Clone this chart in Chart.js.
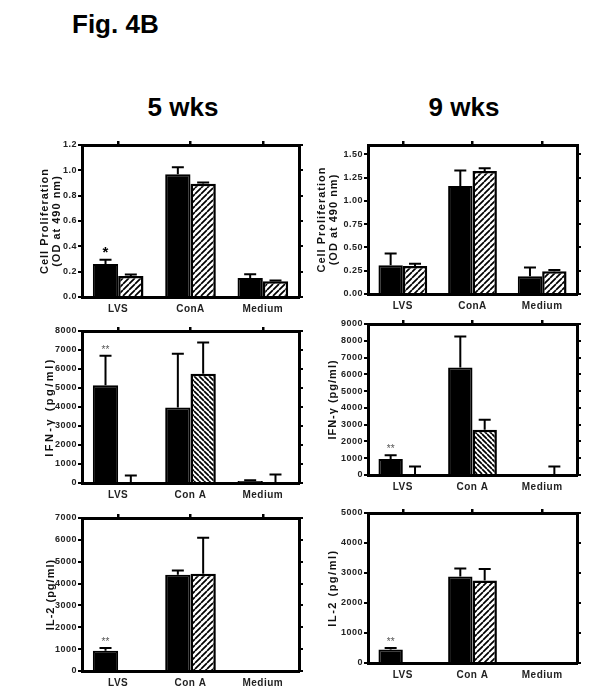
<!DOCTYPE html>
<html lang="en">
<head>
<meta charset="UTF-8">
<title>Fig. 4B</title>
<script src="https://cdn.jsdelivr.net/npm/chart.js"></script>
<style>
  body { margin: 0; background: #fff; font-family: "Liberation Sans", Arial, sans-serif; }
  #fig { position: relative; width: 607px; height: 695px; overflow: hidden; }
  .txt { position: absolute; font-weight: bold; color: #000; line-height: 1; white-space: nowrap; }
  canvas { position: absolute; }
</style>
</head>
<body>
<div id="fig">
  <div class="txt" style="left:72px;top:11px;font-size:26px">Fig. 4B</div>
  <div class="txt" style="left:123px;top:94px;width:120px;text-align:center;font-size:26px">5 wks</div>
  <div class="txt" style="left:404px;top:94px;width:120px;text-align:center;font-size:26px">9 wks</div>
  <canvas id="p1"></canvas>
  <canvas id="p2"></canvas>
  <canvas id="p3"></canvas>
  <canvas id="p4"></canvas>
  <canvas id="p5"></canvas>
  <canvas id="p6"></canvas>
</div>
<script>
// categories
const prolifLabels = ['LVS', 'ConA', 'Medium'];
const cytoLabels = ['LVS', 'Con A', 'Medium'];

// cell proliferation, 5 wks
const prolif5Solid = [0.26, 0.97, 0.15];
const prolif5SolidErr = [0.035, 0.055, 0.03];
const prolif5Hatch = [0.165, 0.895, 0.125];
const prolif5HatchErr = [0.012, 0.008, 0.005];
const prolif5Ticks = [0, 0.2, 0.4, 0.6, 0.8, 1.0, 1.2];
const prolif5Stars = ['*', '', ''];

// cell proliferation, 9 wks
const prolif9Solid = [0.31, 1.16, 0.19];
const prolif9SolidErr = [0.125, 0.165, 0.095];
const prolif9Hatch = [0.30, 1.32, 0.245];
const prolif9HatchErr = [0.025, 0.03, 0.012];
const prolif9Ticks = [0, 0.25, 0.5, 0.75, 1.0, 1.25, 1.5];
const prolif9Stars = ['', '', ''];

// IFN-gamma, 5 wks
const ifn5Solid = [5150, 3980, 100];
const ifn5SolidErr = [1550, 2820, 40];
const ifn5Hatch = [0, 5750, 0];
const ifn5HatchErr = [400, 1650, 450];
const ifn5Ticks = [0, 1000, 2000, 3000, 4000, 5000, 6000, 7000, 8000];
const ifn5Stars = ['**', '', ''];

// IFN-gamma, 9 wks
const ifn9Solid = [950, 6400, 0];
const ifn9SolidErr = [230, 1850, 0];
const ifn9Hatch = [0, 2700, 0];
const ifn9HatchErr = [500, 600, 500];
const ifn9Ticks = [0, 1000, 2000, 3000, 4000, 5000, 6000, 7000, 8000, 9000];
const ifn9Stars = ['**', '', ''];

// IL-2, 5 wks
const il5Solid = [930, 4400, 0];
const il5SolidErr = [120, 200, 0];
const il5Hatch = [0, 4450, 0];
const il5HatchErr = [0, 1650, 0];
const il5Ticks = [0, 1000, 2000, 3000, 4000, 5000, 6000, 7000];
const il5Stars = ['**', '', ''];

// IL-2, 9 wks
const il9Solid = [450, 2880, 30];
const il9SolidErr = [50, 270, 0];
const il9Hatch = [25, 2750, 30];
const il9HatchErr = [0, 380, 0];
const il9Ticks = [0, 1000, 2000, 3000, 4000, 5000];
const il9Stars = ['**', '', ''];

const FONT = '"Liberation Sans", Arial, sans-serif';

// plot area of each panel on the page, left axis width, hatch direction
const panels = [
  { id: 'p1', x: 82, y: 145, w: 217, h: 152, L: 43, max: 1.2, dec: 1, hatch: 1, spacing: '1px',
    labels: prolifLabels, solid: prolif5Solid, solidErr: prolif5SolidErr, hatched: prolif5Hatch, hatchedErr: prolif5HatchErr,
    ticks: prolif5Ticks, stars: prolif5Stars, starFont: 'bold 15px ' + FONT, starColor: '#000',
    title: ['Cell Proliferation', '(OD at 490 nm)'] },
  { id: 'p2', x: 368, y: 145, w: 209, h: 149, L: 52, max: 1.6, dec: 2, hatch: 1, spacing: '1px',
    labels: prolifLabels, solid: prolif9Solid, solidErr: prolif9SolidErr, hatched: prolif9Hatch, hatchedErr: prolif9HatchErr,
    ticks: prolif9Ticks, stars: prolif9Stars, starFont: 'bold 15px ' + FONT, starColor: '#000',
    title: ['Cell Proliferation', '(OD at 490 nm)'] },
  { id: 'p3', x: 82, y: 331, w: 217, h: 152, L: 38, max: 8000, dec: 0, hatch: -1, spacing: '2.5px',
    labels: cytoLabels, solid: ifn5Solid, solidErr: ifn5SolidErr, hatched: ifn5Hatch, hatchedErr: ifn5HatchErr,
    ticks: ifn5Ticks, stars: ifn5Stars, starFont: '10px ' + FONT, starColor: '#555',
    title: 'IFN-γ (pg/ml)' },
  { id: 'p4', x: 368, y: 324, w: 209, h: 151, L: 41, max: 9000, dec: 0, hatch: -1, spacing: '1px',
    labels: cytoLabels, solid: ifn9Solid, solidErr: ifn9SolidErr, hatched: ifn9Hatch, hatchedErr: ifn9HatchErr,
    ticks: ifn9Ticks, stars: ifn9Stars, starFont: '10px ' + FONT, starColor: '#555',
    title: 'IFN-γ (pg/ml)' },
  { id: 'p5', x: 82, y: 518, w: 217, h: 153, L: 37, max: 7000, dec: 0, hatch: 1, spacing: '1px',
    labels: cytoLabels, solid: il5Solid, solidErr: il5SolidErr, hatched: il5Hatch, hatchedErr: il5HatchErr,
    ticks: il5Ticks, stars: il5Stars, starFont: '10px ' + FONT, starColor: '#555',
    title: 'IL-2 (pg/ml)' },
  { id: 'p6', x: 368, y: 513, w: 209, h: 150, L: 41, max: 5000, dec: 0, hatch: 1, spacing: '1.5px',
    labels: cytoLabels, solid: il9Solid, solidErr: il9SolidErr, hatched: il9Hatch, hatchedErr: il9HatchErr,
    ticks: il9Ticks, stars: il9Stars, starFont: '10px ' + FONT, starColor: '#555',
    title: 'IL-2 (pg/ml)' }
];

const T = 5, R = 7, B = 22;

function makeHatch(ctx, dir) {
  const s = dir > 0 ? 6 : 5;
  const c = document.createElement('canvas');
  c.width = s; c.height = s;
  const g = c.getContext('2d');
  g.fillStyle = '#fff';
  g.fillRect(0, 0, s, s);
  g.strokeStyle = '#000';
  g.lineWidth = 1.7;
  g.beginPath();
  for (let k = -1; k <= 1; k++) {
    if (dir > 0) { g.moveTo(k * s, s); g.lineTo(k * s + s, 0); }
    else { g.moveTo(k * s, 0); g.lineTo(k * s + s, s); }
  }
  g.stroke();
  return ctx.createPattern(c, 'repeat');
}

// one-sided error bars and significance marks
const extras = {
  id: 'extras',
  beforeDraw(chart) {
    chart.ctx.letterSpacing = '0.5px';
  },
  afterDatasetsDraw(chart, args, opts) {
    const ctx = chart.ctx;
    const y = chart.scales.y;
    ctx.save();
    ctx.letterSpacing = '0px';
    chart.data.datasets.forEach((ds, i) => {
      const meta = chart.getDatasetMeta(i);
      meta.data.forEach((bar, j) => {
        const e = ds.errors[j];
        const top = y.getPixelForValue(ds.data[j] + e);
        if (e) {
          const base = y.getPixelForValue(ds.data[j]);
          ctx.strokeStyle = '#000';
          ctx.lineWidth = 2;
          ctx.beginPath();
          ctx.moveTo(bar.x, base);
          ctx.lineTo(bar.x, top);
          ctx.moveTo(bar.x - 6, top);
          ctx.lineTo(bar.x + 6, top);
          ctx.stroke();
        }
        if (ds.stars && ds.stars[j]) {
          ctx.fillStyle = opts.starColor;
          ctx.font = opts.starFont;
          ctx.textAlign = 'center';
          ctx.textBaseline = 'alphabetic';
          ctx.fillText(ds.stars[j], bar.x, top - 3);
        }
      });
    });
    ctx.restore();
  }
};

panels.forEach(p => {
  const cv = document.getElementById(p.id);
  cv.width = p.L + p.w + R;
  cv.height = T + p.h + B;
  cv.style.left = (p.x - p.L) + 'px';
  cv.style.top = (p.y - T) + 'px';
  const ctx = cv.getContext('2d');
  const fmt = v => Number(v).toFixed(p.dec);
  const setTicks = s => { s.ticks = p.ticks.map(v => ({ value: v })); };
  const frame = { display: true, width: 3, color: '#000', z: 1 };
  const tickMarks = { display: true, drawOnChartArea: false, drawTicks: true, tickLength: 4, lineWidth: 2, color: '#000' };

  new Chart(ctx, {
    type: 'bar',
    data: {
      labels: p.labels,
      datasets: [
        { data: p.solid, errors: p.solidErr, stars: p.stars, backgroundColor: '#000', borderColor: '#000', borderWidth: 2 },
        { data: p.hatched, errors: p.hatchedErr, backgroundColor: makeHatch(ctx, p.hatch), borderColor: '#000', borderWidth: 2.5 }
      ]
    },
    options: {
      responsive: false,
      animation: false,
      layout: { padding: 0 },
      categoryPercentage: 0.7,
      barPercentage: 1.0,
      plugins: {
        legend: { display: false },
        tooltip: { enabled: false },
        extras: { starFont: p.starFont, starColor: p.starColor }
      },
      scales: {
        x: {
          position: 'bottom',
          offset: true,
          grid: { display: false, drawTicks: false },
          border: frame,
          ticks: { font: { family: FONT, size: 10, weight: 'bold' }, color: '#222', padding: 6, maxRotation: 0 },
          afterFit(s) { s.height = B; s.paddingLeft = 0; s.paddingRight = 0; }
        },
        x2: {
          type: 'category',
          position: 'top',
          offset: true,
          grid: Object.assign({}, tickMarks, { offset: false, tickLength: 4, lineWidth: 2.5 }),
          border: frame,
          ticks: { display: false },
          afterFit(s) { s.height = T; s.paddingLeft = 0; s.paddingRight = 0; }
        },
        y: {
          position: 'left',
          min: 0,
          max: p.max,
          grid: tickMarks,
          border: frame,
          ticks: { font: { family: FONT, size: 9, weight: 'bold' }, color: '#222', padding: 1, callback: fmt },
          title: { display: true, text: p.title, color: '#111', padding: 0,
                   font: { family: FONT, size: 11, weight: 'bold', lineHeight: 1.1 } },
          afterBuildTicks: setTicks,
          afterFit(s) {
            s.width = p.L; s.paddingTop = 0; s.paddingBottom = 0;
            if (!s._spaced) {
              const draw = s.drawTitle;
              s.drawTitle = function () {
                this.ctx.save();
                this.ctx.letterSpacing = p.spacing;
                draw.call(this);
                this.ctx.restore();
              };
              s._spaced = true;
            }
          }
        },
        y2: {
          position: 'right',
          min: 0,
          max: p.max,
          grid: tickMarks,
          border: frame,
          ticks: { display: false },
          afterBuildTicks: setTicks,
          afterFit(s) { s.width = R; s.paddingTop = 0; s.paddingBottom = 0; }
        }
      }
    },
    plugins: [extras]
  });
});
</script>
</body>
</html>
